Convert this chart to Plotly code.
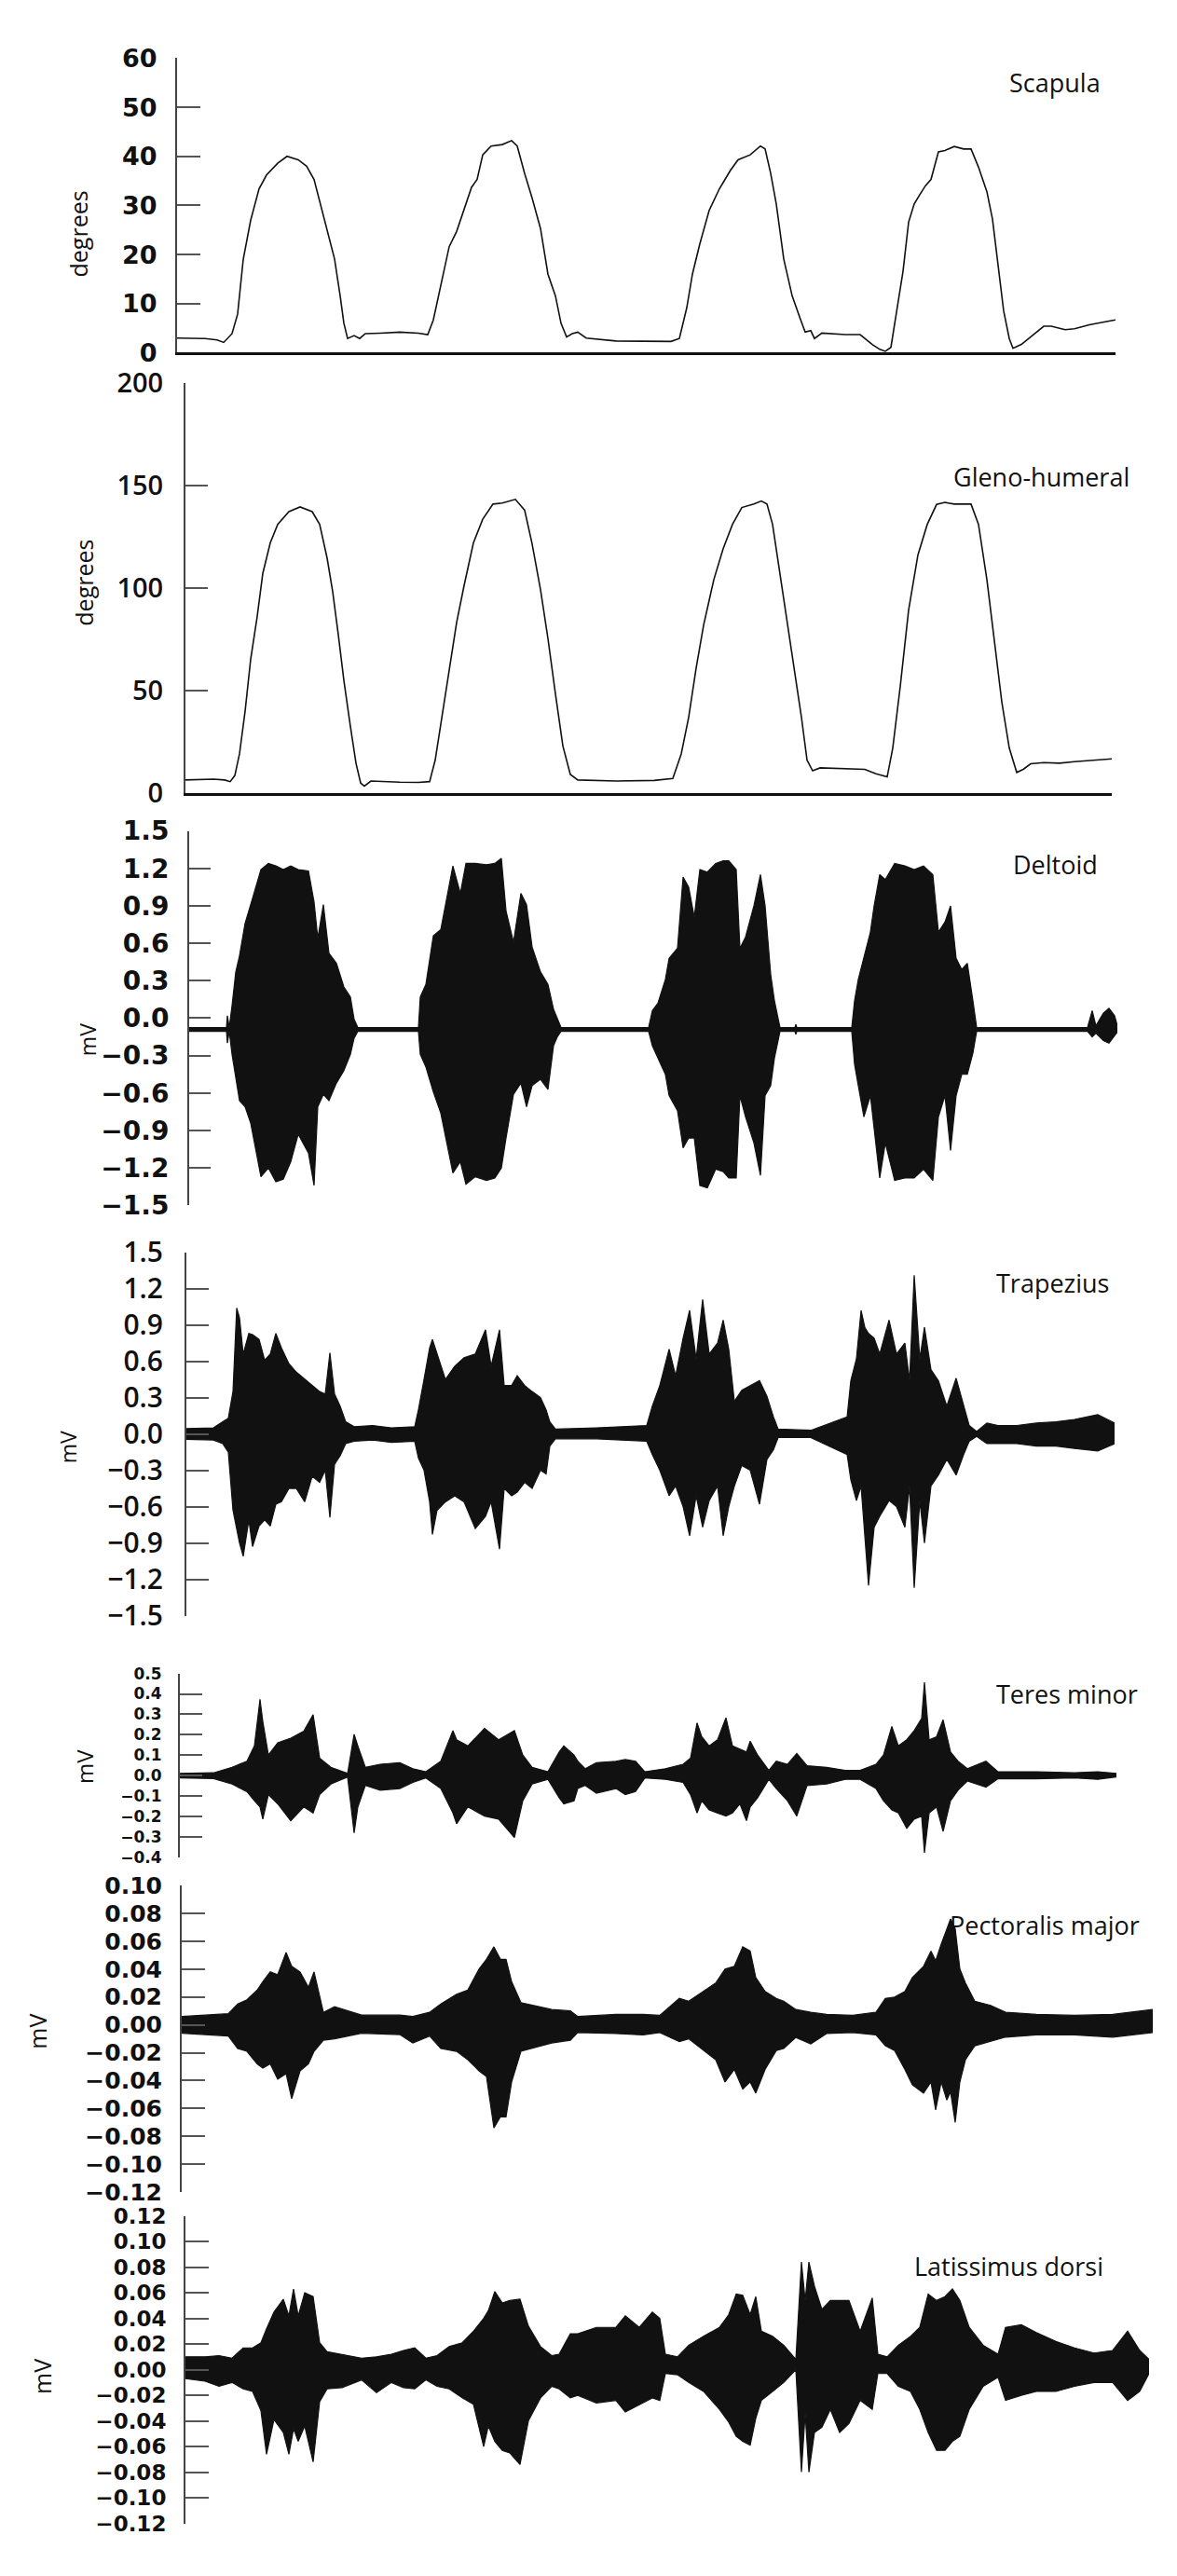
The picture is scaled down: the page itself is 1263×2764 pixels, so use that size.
import plotly.graph_objects as go

W, H = 1263, 2764

# ---------------- DATA (time in s) ----------------
scap_t = [0, 3.0, 4.3, 5.0, 5.9, 6.5, 7.1, 7.9, 8.8, 9.6, 10.8, 11.8, 13.0, 13.9, 14.7, 15.3, 16.1, 16.9,
          17.5, 17.9, 18.3, 19.0, 19.6, 20.2, 21.8, 23.9, 25.9, 26.9, 27.5, 28.3, 29.2, 30.0, 30.8, 31.6,
          32.2, 32.8, 33.7, 34.9, 35.9, 36.5, 37.3, 38.1, 39.0, 39.8, 40.6, 41.2, 41.8, 42.4, 43.0, 43.9,
          47.1, 50.0, 53.0, 53.9, 54.7, 55.3, 56.1, 57.1, 58.2, 58.8, 59.4, 60.2, 61.5, 62.6, 63.1, 63.7,
          64.3, 65.1, 66.0, 66.8, 67.4, 68.0, 68.4, 69.2, 71.7, 73.3, 74.6, 75.4, 76.0, 76.6, 77.2, 77.9,
          78.5, 79.1, 79.7, 80.3, 80.9, 81.7, 82.4, 83.4, 84.4, 85.2, 86.0, 86.9, 87.5, 88.1, 88.7, 89.3,
          89.7, 90.6, 91.8, 93.0, 93.8, 95.3, 96.3, 97.9, 99.6, 100.7]
scap_deg = [3.0, 2.9, 2.6, 2.1, 3.9, 7.9, 19.0, 27.0, 33.4, 36.2, 38.6, 40.0, 39.3, 38.0, 35.3, 31.0, 25.3, 19.1,
            11.6, 6.0, 2.9, 3.5, 2.9, 3.9, 4.0, 4.2, 4.0, 3.7, 6.7, 13.5, 21.6, 24.7, 29.0, 33.7,
            35.3, 40.3, 42.1, 42.4, 43.2, 42.1, 36.5, 31.5, 25.3, 16.0, 11.6, 6.0, 3.2, 3.9, 4.2, 3.0,
            2.4, 2.3, 2.3, 2.9, 9.2, 16.0, 22.2, 29.0, 33.4, 35.3, 37.2, 39.3, 40.3, 42.1, 41.5, 36.5,
            30.3, 19.1, 11.6, 7.3, 4.2, 4.5, 2.9, 4.0, 3.7, 3.7, 1.7, 0.7, 0.3, 1.1, 8.5, 16.6,
            26.6, 30.3, 32.2, 34.0, 35.3, 40.9, 41.2, 42.0, 41.5, 41.5, 37.8, 32.8, 27.2, 17.9, 8.5, 2.9,
            0.9, 1.7, 3.5, 5.4, 5.4, 4.7, 4.9, 5.7, 6.3, 6.7]

gh_t = [0, 3.0, 4.2, 4.8, 5.3, 5.8, 6.4, 7.0, 7.7, 8.3, 9.1, 9.9, 11.1, 12.3, 13.6, 14.4, 15.2, 15.8, 16.4,
        17.0, 17.7, 18.3, 18.8, 19.2, 19.9, 20.9, 23.0, 25.0, 26.2, 26.8, 27.4, 28.3, 29.1, 29.9, 30.9,
        31.9, 33.0, 34.0, 35.4, 36.4, 37.2, 38.1, 38.9, 39.7, 40.5, 41.3, 42.1, 46.2, 50.3, 52.3, 53.2,
        54.0, 54.8, 55.6, 56.7, 57.7, 58.7, 59.7, 61.0, 61.8, 62.4, 63.0, 63.6, 64.4, 65.3, 66.1, 66.7,
        67.3, 68.1, 70.8, 72.9, 74.1, 75.3, 75.9, 76.7, 77.6, 78.6, 79.6, 80.6, 81.5, 82.5, 83.5, 84.3,
        85.1, 86.0, 86.8, 87.6, 88.4, 89.2, 89.9, 90.7, 92.1, 93.8, 95.4, 97.4, 99.4]
gh_deg = [6.5, 6.9, 6.5, 5.7, 8.7, 19.2, 40.0, 65.4, 86.3, 107.2, 122.1, 131.1, 137.3, 139.6, 137.3, 131.1,
          114.7, 98.3, 77.4, 55.0, 32.6, 14.7, 5.0, 3.5, 6.0, 5.7, 5.4, 5.3, 5.7, 16.2, 34.1, 59.5, 83.3,
          101.3, 122.1, 133.6, 141.0, 141.5, 143.3, 138.0, 121.6, 99.3, 75.4, 48.5, 23.1, 9.2, 6.5, 6.0,
          6.3, 7.2, 19.2, 37.1, 61.0, 81.9, 104.2, 119.2, 131.1, 139.3, 141.0, 142.5, 141.0, 131.1, 113.2,
          89.3, 62.4, 37.1, 16.2, 11.0, 12.4, 12.0, 11.7, 9.5, 8.0, 22.1, 52.0, 89.3, 116.2, 131.1, 140.8,
          141.8, 141.0, 141.0, 141.0, 131.1, 104.2, 74.4, 44.5, 22.1, 10.2, 11.7, 14.4, 15.0, 14.7, 15.4,
          16.2, 16.8]

delt_t = [0.0, 4.0, 4.1, 4.3, 4.6, 5.0, 5.4, 6.0, 6.6, 7.7, 8.5, 9.3, 10.1, 10.9, 11.7, 12.8, 13.4, 13.8,
          14.4, 15.0, 15.8, 16.6, 17.3, 17.7, 18.1, 24.6, 24.8, 25.4, 26.2, 27.0, 28.3, 29.1, 29.7, 30.7,
          31.9, 32.8, 33.5, 34.0, 34.8, 35.6, 36.2, 36.8, 37.7, 38.5, 39.1, 39.5, 39.9, 49.3, 49.7, 50.3,
          51.1, 51.5, 52.4, 53.0, 53.6, 54.2, 54.8, 55.6, 56.5, 57.3, 57.9, 58.7, 59.1, 59.7, 60.6, 61.3,
          61.8, 62.4, 62.8, 63.4, 65.0, 65.1, 65.2, 71.1, 71.4, 71.8, 72.4, 73.1, 73.5, 74.1, 74.7, 75.7,
          76.8, 77.8, 78.8, 79.8, 80.4, 81.1, 81.7, 82.3, 82.9, 83.5, 84.1, 84.5, 96.4, 96.9, 97.3, 98.1,
          98.7, 99.3, 99.6]
delt_hi = [-0.075, -0.075, 0.02, -0.075, 0.10, 0.37, 0.50, 0.76, 0.91, 1.19, 1.24, 1.22, 1.19, 1.22, 1.19,
           1.18, 0.93, 0.64, 0.91, 0.52, 0.44, 0.25, 0.17, -0.01, -0.075, -0.075, 0.17, 0.27, 0.66, 0.71,
           1.22, 1.00, 1.24, 1.24, 1.23, 1.24, 1.28, 0.86, 0.61, 1.00, 0.91, 0.57, 0.37, 0.27, 0.07, 0.00,
           -0.075, -0.075, 0.06, 0.12, 0.31, 0.48, 0.56, 1.13, 1.05, 0.81, 1.19, 1.17, 1.24, 1.26, 1.26,
           1.19, 0.56, 0.65, 0.90, 1.15, 0.90, 0.35, 0.14, -0.075, -0.075, -0.05, -0.075, -0.075, 0.14,
           0.31, 0.48, 0.69, 0.90, 1.15, 1.11, 1.24, 1.22, 1.19, 1.22, 1.15, 0.69, 0.77, 0.90, 0.48, 0.39,
           0.44, 0.14, -0.075, -0.075, 0.06, -0.06, 0.04, 0.08, 0.02, -0.06]
delt_lo = [-0.105, -0.105, -0.20, -0.105, -0.29, -0.47, -0.66, -0.71, -0.84, -1.27, -1.20, -1.31, -1.29,
           -1.15, -0.93, -1.08, -1.34, -0.71, -0.61, -0.66, -0.52, -0.42, -0.29, -0.16, -0.105, -0.105,
           -0.29, -0.39, -0.59, -0.76, -1.24, -1.15, -1.33, -1.27, -1.30, -1.28, -1.20, -0.96, -0.61,
           -0.52, -0.71, -0.54, -0.49, -0.57, -0.22, -0.15, -0.105, -0.105, -0.22, -0.32, -0.45, -0.62,
           -0.74, -1.04, -0.96, -0.96, -1.34, -1.36, -1.21, -1.23, -1.28, -1.28, -0.62, -0.79, -1.00,
           -1.26, -0.62, -0.54, -0.32, -0.105, -0.105, -0.13, -0.105, -0.105, -0.37, -0.54, -0.79, -0.62,
           -0.87, -1.28, -1.00, -1.30, -1.28, -1.28, -1.21, -1.30, -0.79, -0.62, -1.06, -0.62, -0.45,
           -0.45, -0.28, -0.105, -0.105, -0.15, -0.12, -0.18, -0.20, -0.14, -0.11]

trap_t = [0.0, 2.9, 3.9, 4.5, 5.0, 5.4, 5.7, 6.1, 6.7, 7.1, 7.8, 8.4, 9.0, 9.6, 10.2, 11.0, 11.8, 12.7, 13.5,
          14.3, 14.9, 15.4, 15.9, 16.5, 17.1, 18.0, 20.0, 22.0, 24.5, 24.9, 25.5, 26.1, 26.4, 26.9, 27.8,
          28.8, 29.8, 31.0, 32.1, 32.7, 33.6, 34.1, 34.9, 35.5, 36.3, 37.1, 38.0, 38.6, 39.0, 39.6, 44.0,
          49.4, 50.0, 50.8, 51.8, 52.5, 53.3, 54.0, 54.7, 55.4, 56.1, 57.0, 57.6, 58.2, 58.8, 59.6, 60.5,
          61.5, 62.3, 63.0, 63.5, 67.0, 70.9, 71.3, 71.9, 72.4, 72.8, 73.2, 73.8, 74.4, 75.4, 76.2, 77.1,
          77.6, 78.1, 78.7, 79.2, 79.9, 80.7, 81.6, 82.6, 83.4, 84.0, 84.8, 85.9, 87.1, 89.1, 91.2, 93.3,
          95.3, 97.8, 99.6]
trap_hi = [0.045, 0.05, 0.10, 0.13, 0.35, 1.04, 0.96, 0.66, 0.83, 0.82, 0.78, 0.61, 0.66, 0.83, 0.71, 0.58,
           0.51, 0.45, 0.40, 0.35, 0.33, 0.67, 0.33, 0.23, 0.10, 0.06, 0.07, 0.05, 0.06, 0.20, 0.45, 0.71,
           0.78, 0.66, 0.45, 0.56, 0.63, 0.66, 0.86, 0.56, 0.86, 0.40, 0.40, 0.48, 0.40, 0.35, 0.30, 0.20,
           0.10, 0.04, 0.05, 0.07, 0.23, 0.40, 0.70, 0.48, 0.79, 1.02, 0.62, 1.11, 0.66, 0.75, 0.94, 0.70,
           0.27, 0.36, 0.40, 0.44, 0.31, 0.14, 0.04, 0.03, 0.14, 0.44, 0.62, 1.02, 0.88, 0.83, 0.79, 0.66,
           0.94, 0.66, 0.75, 0.44, 1.31, 0.62, 0.88, 0.53, 0.44, 0.23, 0.46, 0.23, 0.07, 0.02, 0.09, 0.07,
           0.07, 0.09, 0.10, 0.12, 0.16, 0.09]
trap_lo = [-0.045, -0.05, -0.08, -0.15, -0.63, -0.78, -0.90, -1.01, -0.71, -0.93, -0.76, -0.71, -0.76,
           -0.58, -0.56, -0.45, -0.45, -0.56, -0.35, -0.40, -0.30, -0.69, -0.25, -0.18, -0.08, -0.06,
           -0.05, -0.07, -0.06, -0.20, -0.30, -0.56, -0.83, -0.63, -0.56, -0.51, -0.56, -0.78, -0.68,
           -0.56, -0.95, -0.45, -0.51, -0.48, -0.40, -0.45, -0.30, -0.33, -0.10, -0.04, -0.04, -0.06,
           -0.17, -0.30, -0.51, -0.43, -0.60, -0.84, -0.51, -0.77, -0.55, -0.43, -0.84, -0.60, -0.43,
           -0.26, -0.30, -0.58, -0.21, -0.13, -0.03, -0.03, -0.17, -0.38, -0.55, -0.43, -0.86, -1.25,
           -0.77, -0.68, -0.55, -0.60, -0.77, -0.43, -1.27, -0.55, -0.90, -0.43, -0.34, -0.21, -0.34,
           -0.17, -0.06, -0.02, -0.08, -0.08, -0.08, -0.10, -0.10, -0.12, -0.14, -0.08]

teres_t = [0.0, 3.6, 5.6, 7.2, 8.0, 8.6, 8.9, 9.5, 10.5, 11.9, 13.3, 14.3, 15.0, 16.2, 18.0, 18.7, 19.1, 19.9,
           21.5, 23.6, 25.0, 26.4, 28.0, 29.3, 29.7, 30.9, 32.7, 34.2, 35.9, 36.8, 37.8, 39.5, 40.7, 41.2,
           42.3, 42.7, 43.5, 44.7, 46.8, 47.8, 48.9, 49.9, 52.1, 54.0, 54.8, 55.5, 56.0, 56.8, 57.7, 58.6,
           59.3, 60.1, 60.8, 61.2, 62.0, 63.2, 64.0, 65.2, 66.2, 67.3, 69.4, 71.4, 73.0, 74.7, 75.5, 76.4,
           77.1, 78.0, 78.8, 79.6, 79.9, 80.4, 81.2, 81.9, 82.7, 83.5, 84.5, 86.5, 87.8, 91.9, 96.0, 98.5,
           100.5]
teres_hi = [0.010, 0.013, 0.040, 0.070, 0.145, 0.373, 0.265, 0.100, 0.160, 0.183, 0.217, 0.298, 0.085,
            0.040, 0.010, 0.202, 0.145, 0.040, 0.055, 0.063, 0.033, 0.018, 0.070, 0.220, 0.175, 0.145,
            0.231, 0.175, 0.220, 0.100, 0.040, 0.018, 0.115, 0.145, 0.100, 0.070, 0.033, 0.063, 0.070,
            0.078, 0.070, 0.018, 0.033, 0.055, 0.085, 0.258, 0.190, 0.145, 0.175, 0.283, 0.145, 0.130,
            0.115, 0.168, 0.100, 0.025, 0.070, 0.055, 0.108, 0.048, 0.040, 0.025, 0.025, 0.055, 0.100,
            0.240, 0.145, 0.175, 0.220, 0.280, 0.457, 0.175, 0.190, 0.273, 0.115, 0.070, 0.033, 0.070,
            0.018, 0.018, 0.013, 0.018, 0.010]
teres_lo = [-0.012, -0.015, -0.042, -0.079, -0.124, -0.154, -0.214, -0.094, -0.139, -0.222, -0.154,
            -0.184, -0.094, -0.042, -0.007, -0.282, -0.154, -0.049, -0.072, -0.064, -0.034, -0.012,
            -0.064, -0.184, -0.237, -0.154, -0.199, -0.214, -0.304, -0.124, -0.042, -0.019, -0.109,
            -0.139, -0.124, -0.064, -0.049, -0.087, -0.064, -0.094, -0.079, -0.012, -0.019, -0.034,
            -0.094, -0.184, -0.124, -0.169, -0.184, -0.199, -0.184, -0.139, -0.222, -0.154, -0.109,
            -0.019, -0.064, -0.124, -0.199, -0.049, -0.042, -0.019, -0.019, -0.064, -0.124, -0.169,
            -0.184, -0.259, -0.214, -0.199, -0.379, -0.184, -0.154, -0.274, -0.124, -0.072, -0.027,
            -0.057, -0.016, -0.016, -0.012, -0.019, -0.007]

pect_t = [0.0, 2.5, 5.0, 6.0, 7.0, 8.1, 8.7, 9.5, 10.3, 11.2, 11.8, 12.7, 13.6, 14.2, 15.2, 16.4, 19.3, 23.4,
          24.8, 26.6, 27.8, 29.5, 30.7, 31.9, 32.7, 33.5, 34.2, 34.8, 35.4, 36.4, 37.6, 39.7, 41.7, 42.5,
          46.6, 49.5, 51.3, 53.4, 54.4, 56.0, 57.3, 58.3, 59.3, 60.2, 61.0, 61.6, 62.6, 63.8, 64.6, 65.9,
          67.5, 69.2, 72.0, 74.5, 75.5, 76.5, 77.6, 78.4, 79.6, 80.4, 80.9, 81.5, 82.1, 82.5, 83.0, 83.5,
          84.1, 85.1, 86.8, 88.4, 91.7, 95.8, 99.9, 104.2]
pect_hi = [0.006, 0.007, 0.008, 0.015, 0.018, 0.025, 0.031, 0.038, 0.036, 0.052, 0.042, 0.038, 0.027, 0.038,
           0.009, 0.013, 0.007, 0.007, 0.006, 0.009, 0.015, 0.022, 0.025, 0.040, 0.047, 0.056, 0.047, 0.047,
           0.031, 0.016, 0.014, 0.011, 0.010, 0.006, 0.0075, 0.0075, 0.0068, 0.019, 0.017, 0.024, 0.030,
           0.040, 0.042, 0.056, 0.053, 0.034, 0.024, 0.019, 0.017, 0.011, 0.009, 0.0075, 0.0068, 0.0091,
           0.019, 0.020, 0.024, 0.034, 0.042, 0.053, 0.046, 0.058, 0.069, 0.076, 0.069, 0.040, 0.030, 0.017,
           0.014, 0.0091, 0.0075, 0.0068, 0.0075, 0.011]
pect_lo = [-0.006, -0.007, -0.008, -0.017, -0.019, -0.028, -0.031, -0.028, -0.039, -0.035, -0.053, -0.033,
           -0.028, -0.019, -0.011, -0.010, -0.006, -0.007, -0.013, -0.008, -0.017, -0.019, -0.025, -0.033,
           -0.037, -0.074, -0.066, -0.066, -0.041, -0.019, -0.017, -0.013, -0.011, -0.0055, -0.0062,
           -0.0072, -0.0055, -0.012, -0.010, -0.0185, -0.025, -0.041, -0.032, -0.046, -0.041, -0.049,
           -0.032, -0.0185, -0.017, -0.009, -0.0136, -0.0062, -0.0055, -0.0072, -0.015, -0.0185, -0.032,
           -0.043, -0.049, -0.041, -0.061, -0.041, -0.054, -0.048, -0.070, -0.041, -0.025, -0.015, -0.012,
           -0.0088, -0.0072, -0.0072, -0.0088, -0.0055]

lat_t = [0.0, 2.1, 3.6, 5.0, 6.2, 7.2, 8.1, 8.7, 9.5, 10.5, 11.1, 11.6, 12.1, 12.8, 13.7, 14.4, 15.2, 16.8,
         18.9, 20.5, 22.1, 23.4, 24.6, 25.8, 27.0, 28.3, 29.7, 30.9, 32.0, 32.5, 33.2, 34.0, 34.8, 35.9,
         36.8, 38.1, 39.3, 40.1, 41.3, 42.1, 44.1, 46.2, 47.2, 48.7, 50.1, 50.9, 51.5, 52.8, 54.0, 55.6,
         57.3, 58.3, 59.1, 59.8, 60.6, 61.2, 61.8, 63.0, 64.2, 65.5, 66.1, 66.5, 66.9, 67.5, 68.3, 69.2,
         70.2, 71.2, 72.4, 73.7, 74.3, 75.3, 76.5, 77.8, 78.8, 79.7, 80.6, 81.5, 82.3, 83.1, 84.1, 85.6,
         87.2, 88.0, 89.7, 91.3, 93.4, 95.4, 97.5, 99.5, 101.1, 102.4, 103.4]
lat_hi = [0.010, 0.010, 0.011, 0.009, 0.017, 0.017, 0.021, 0.032, 0.045, 0.055, 0.042, 0.063, 0.042, 0.060,
          0.057, 0.021, 0.014, 0.012, 0.009, 0.010, 0.012, 0.015, 0.017, 0.009, 0.011, 0.018, 0.021, 0.030,
          0.040, 0.046, 0.061, 0.052, 0.054, 0.055, 0.034, 0.018, 0.011, 0.012, 0.028, 0.028, 0.033, 0.033,
          0.042, 0.033, 0.045, 0.040, 0.012, 0.010, 0.019, 0.026, 0.033, 0.043, 0.059, 0.058, 0.043, 0.057,
          0.030, 0.026, 0.019, 0.008, 0.084, 0.054, 0.084, 0.065, 0.047, 0.054, 0.054, 0.054, 0.030, 0.056,
          0.012, 0.010, 0.019, 0.026, 0.033, 0.059, 0.054, 0.057, 0.063, 0.054, 0.033, 0.019, 0.012, 0.033,
          0.035, 0.029, 0.022, 0.017, 0.013, 0.015, 0.030, 0.015, 0.008]
lat_lo = [-0.007, -0.009, -0.013, -0.010, -0.015, -0.017, -0.032, -0.066, -0.039, -0.049, -0.066, -0.046,
          -0.056, -0.044, -0.072, -0.025, -0.015, -0.014, -0.008, -0.018, -0.010, -0.014, -0.015, -0.008,
          -0.013, -0.015, -0.022, -0.027, -0.060, -0.044, -0.056, -0.063, -0.065, -0.074, -0.040, -0.022,
          -0.013, -0.015, -0.022, -0.020, -0.026, -0.024, -0.033, -0.027, -0.022, -0.024, -0.003, -0.004,
          -0.010, -0.017, -0.031, -0.041, -0.052, -0.056, -0.059, -0.038, -0.024, -0.017, -0.010, 0.000,
          -0.080, -0.034, -0.080, -0.049, -0.045, -0.031, -0.049, -0.042, -0.024, -0.031, -0.003, -0.003,
          -0.013, -0.017, -0.031, -0.049, -0.063, -0.063, -0.056, -0.052, -0.031, -0.013, -0.006, -0.024,
          -0.020, -0.017, -0.017, -0.013, -0.010, -0.010, -0.024, -0.017, -0.003]

# tick labels
scap_ticks = [0, 10, 20, 30, 40, 50, 60]
scap_ticktext = ["0", "10", "20", "30", "40", "50", "60"]
gh_ticks = [0, 50, 100, 150, 200]
gh_ticktext = ["0", "50", "100", "150", "200"]
mv15_ticks = [-1.5, -1.2, -0.9, -0.6, -0.3, 0.0, 0.3, 0.6, 0.9, 1.2, 1.5]
mv15_ticktext = ["\u22121.5", "\u22121.2", "\u22120.9", "\u22120.6", "\u22120.3", "0.0", "0.3", "0.6", "0.9", "1.2", "1.5"]
teres_ticks = [-0.4, -0.3, -0.2, -0.1, 0.0, 0.1, 0.2, 0.3, 0.4, 0.5]
teres_ticktext = ["\u22120.4", "\u22120.3", "\u22120.2", "\u22120.1", "0.0", "0.1", "0.2", "0.3", "0.4", "0.5"]
pect_ticks = [-0.12, -0.10, -0.08, -0.06, -0.04, -0.02, 0.0, 0.02, 0.04, 0.06, 0.08, 0.10]
pect_ticktext = ["\u22120.12", "\u22120.10", "\u22120.08", "\u22120.06", "\u22120.04", "\u22120.02", "0.00",
                 "0.02", "0.04", "0.06", "0.08", "0.10"]
lat_ticks = [-0.12, -0.10, -0.08, -0.06, -0.04, -0.02, 0.0, 0.02, 0.04, 0.06, 0.08, 0.10, 0.12]
lat_ticktext = ["\u22120.12", "\u22120.10", "\u22120.08", "\u22120.06", "\u22120.04", "\u22120.02", "0.00",
                "0.02", "0.04", "0.06", "0.08", "0.10", "0.12"]

panel_names = ["Scapula", "Gleno-humeral", "Deltoid", "Trapezius", "Teres minor", "Pectoralis major", "Latissimus dorsi"]
unit_labels = ["degrees", "degrees", "mV", "mV", "mV", "mV", "mV"]

# ---------------- LAYOUT (pixel geometry) ----------------
boxes = [(190, 1197, 41, 362), (199, 1193, 395, 842), (203, 1199, 883, 1291), (200, 1196, 1342, 1738),
         (193, 1198, 1801, 2001), (195, 1237, 2032, 2366), (199, 1233, 2392, 2727)]
yranges = [[0, 60], [0, 200], [-1.5, 1.5], [-1.5, 1.5], [-0.4, 0.5], [-0.12, 0.10], [-0.12, 0.12]]
ticks = [(scap_ticks, scap_ticktext), (gh_ticks, gh_ticktext), (mv15_ticks, mv15_ticktext),
         (mv15_ticks, mv15_ticktext), (teres_ticks, teres_ticktext), (pect_ticks, pect_ticktext),
         (lat_ticks, lat_ticktext)]
tickfonts = [dict(family="DejaVu Sans", size=27, weight="bold"),
             dict(family="Open Sans", size=29, weight=600),
             dict(family="DejaVu Sans", size=28, weight="bold"),
             dict(family="Open Sans", size=30, weight=600),
             dict(family="DejaVu Sans", size=17, weight="bold"),
             dict(family="DejaVu Sans", size=25, weight="bold"),
             dict(family="DejaVu Sans", size=23, weight="bold")]
ticklens = [25, 24, 23, 24, 24, 25, 25]
standoffs = [14, 16, 14, 17, 14, 14, 14]
name_pos = [(1081, 68), (1021, 497), (1085, 919), (1067, 1375), (1067, 1823), (1017, 2075), (979, 2447)]
unit_pos = [(84, 233, 25), (90, 613, 25), (94, 1110, 23), (73, 1555, 23), (90, 1903, 24), (40, 2191, 25), (45, 2567, 25)]

fig = go.Figure()

emg = [(delt_t, delt_hi, delt_lo), (trap_t, trap_hi, trap_lo), (teres_t, teres_hi, teres_lo),
       (pect_t, pect_hi, pect_lo), (lat_t, lat_hi, lat_lo)]

fig.add_trace(go.Scatter(x=scap_t, y=scap_deg, mode="lines", line=dict(color="#111", width=1.6),
                         xaxis="x", yaxis="y", showlegend=False, hoverinfo="skip"))
fig.add_trace(go.Scatter(x=gh_t, y=gh_deg, mode="lines", line=dict(color="#111", width=1.6),
                         xaxis="x2", yaxis="y2", showlegend=False, hoverinfo="skip"))
for k, (tt, hi, lo) in enumerate(emg):
    n = k + 3
    fig.add_trace(go.Scatter(x=tt, y=lo, mode="lines", line=dict(color="#111", width=1.2),
                             xaxis=f"x{n}", yaxis=f"y{n}", showlegend=False, hoverinfo="skip"))
    fig.add_trace(go.Scatter(x=tt, y=hi, mode="lines", line=dict(color="#111", width=1.2),
                             fill="tonexty", fillcolor="#111",
                             xaxis=f"x{n}", yaxis=f"y{n}", showlegend=False, hoverinfo="skip"))

layout = dict(width=W, height=H, autosize=False, margin=dict(l=0, r=0, t=0, b=0),
              paper_bgcolor="white", plot_bgcolor="rgba(0,0,0,0)", showlegend=False)

for i in range(7):
    n = i + 1
    xl, xr, yt, yb = boxes[i]
    sfx = "" if n == 1 else str(n)
    baseline = n in (1, 2)
    layout["xaxis" + sfx] = dict(domain=[xl / W, xr / W], range=[0, (xr - xl) / 10],
                                 anchor="y" + sfx, showgrid=False, zeroline=False,
                                 showticklabels=False, ticks="", showline=baseline,
                                 linecolor="#111", linewidth=3, visible=baseline, fixedrange=True)
    tv, tt_ = ticks[i]
    layout["yaxis" + sfx] = dict(domain=[1 - yb / H, 1 - yt / H], range=yranges[i], anchor="x" + sfx,
                                 tickmode="array", tickvals=tv, ticktext=tt_, ticks="inside",
                                 ticklen=ticklens[i], tickwidth=2, tickcolor="#555",
                                 showline=True, linecolor="#444", linewidth=2, showgrid=False,
                                 zeroline=False, tickfont=dict(color="#111", **tickfonts[i]),
                                 ticklabelstandoff=standoffs[i], fixedrange=True)

annotations = []
for i in range(7):
    nx, ny = name_pos[i]
    annotations.append(dict(text=panel_names[i], x=nx / W, y=1 - ny / H, xref="paper", yref="paper",
                            xanchor="left", yanchor="middle", showarrow=False,
                            font=dict(family="Open Sans", size=27, color="#111")))
    ux, uy, us = unit_pos[i]
    annotations.append(dict(text=unit_labels[i], x=ux / W, y=1 - uy / H, xref="paper", yref="paper",
                            xanchor="center", yanchor="middle", showarrow=False, textangle=-90,
                            font=dict(family="Open Sans", size=us, color="#111")))
layout["annotations"] = annotations

fig.update_layout(**layout)
fig.write_html("out.html", config={"displayModeBar": False, "staticPlot": True},
               post_script="document.body.style.margin='0';document.body.style.padding='0';")
